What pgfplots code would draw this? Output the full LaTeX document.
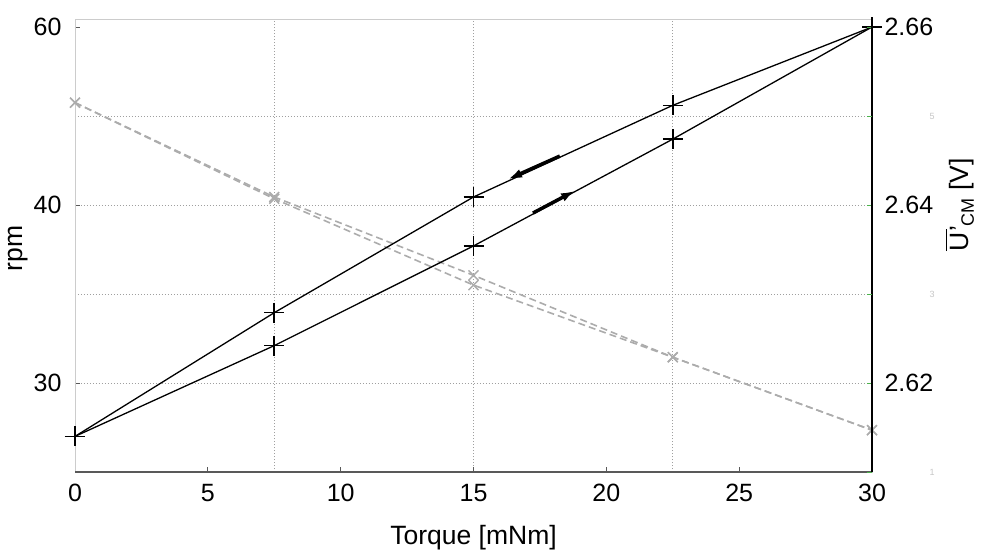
\documentclass[border=0pt]{standalone}
\usepackage{fontspec}
\setmainfont{Liberation Sans}
\usepackage{pgfplots}
\pgfplotsset{compat=1.18}
\usetikzlibrary{arrows.meta}
\begin{document}
\fontsize{25bp}{30bp}\selectfont
\begin{tikzpicture}
\pgfplotsset{
  base/.style={
    scale only axis, width=797bp, height=453bp,
    xmin=0, xmax=30, ymin=2.61, ymax=2.6609,
    /pgf/number format/assume math mode=true,
    tick label style={font=\fontsize{25bp}{30bp}\selectfont},
    label style={font=\fontsize{26.5bp}{30bp}\selectfont},
    tick align=inside, major tick length=5bp,
  }
}
\begin{axis}[base,
  axis line style={gray!40},
  xtick={0,5,...,30}, xticklabels={0,5,10,15,20,25,30},
  minor xtick={7.5,15,22.5}, xminorgrids, minor tick length=0pt,
  ytick={2.62,2.64,2.66}, yticklabels={30,40,60},
  minor ytick={2.62,2.63,2.64,2.65}, yminorgrids,
  xtick pos=bottom, ytick pos=left,
  tick style={gray!70!black, line width=0.8bp},
  minor grid style={gray!75, dash pattern=on 1.5bp off 1.5bp, line width=0.8bp},
  xlabel={Torque [mNm]},
  xlabel style={at={(axis description cs:0.5,0)}, anchor=center, yshift=-66bp},
  ylabel={rpm},
  ylabel style={at={(axis description cs:-0.0715,0.494)}, anchor=center},
  yticklabel style={xshift=-5bp},
  xticklabel style={yshift=-4bp},
]
\coordinate (sw) at (rel axis cs:0,0);
\coordinate (ne) at (rel axis cs:1,1);
% gray dashed series
\addplot[gray!65, line width=1.6bp, dash pattern=on 7bp off 4bp, mark=x, mark size=7bp, mark options={solid, line width=1.5bp}]
  coordinates {(0,2.6515) (7.5,2.6409) (15,2.6321) (22.5,2.6229) (30,2.6147)};
\addplot[gray!65, line width=1.6bp, dash pattern=on 7bp off 4bp, mark=x, mark size=7bp, mark options={solid, line width=1.5bp}]
  coordinates {(0,2.6515) (7.5,2.6407) (15,2.6310) (22.5,2.6229) (30,2.6147)};
% black series
\addplot[black, line width=1.3bp, mark=+, mark size=10bp, mark options={line width=1.6bp}]
  coordinates {(0,2.6140) (7.5,2.6279) (15,2.6409) (22.5,2.6512) (30,2.6600)};
\addplot[black, line width=1.3bp, mark=+, mark size=10bp, mark options={line width=1.6bp}]
  coordinates {(0,2.6140) (7.5,2.6242) (15,2.6354) (22.5,2.6474) (30,2.6600)};
% direction arrows
\addplot[black, line width=3.5bp, -{Latex[length=14bp,width=9bp]}]
  coordinates {(18.25,2.6455) (16.3,2.6429)};
\addplot[black, line width=3.5bp, -{Latex[length=14bp,width=9bp]}]
  coordinates {(17.24,2.6391) (18.82,2.6416)};
\end{axis}
\begin{axis}[base,
  axis y line*=right, axis x line*=bottom,
  x axis line style={gray!70!black, line width=1.2bp},
  y axis line style={black, line width=1.5bp},
  xtick=\empty,
  ytick={2.62,2.64,2.66}, yticklabels={2.62,2.64,2.66},
  tick style={green!40!gray, line width=0.8bp},
  yticklabel style={xshift=4bp},
  extra y ticks={2.61,2.63,2.65}, extra y tick labels={1,3,5},
  extra y tick style={tick label style={font=\fontsize{9bp}{10bp}\selectfont, text=gray!45, xshift=45bp}},
  ylabel={\makebox[0pt][l]{\rule[21.5bp]{22bp}{1.6bp}}U'\raisebox{-5bp}{\fontsize{18bp}{19bp}\selectfont CM} [V]},
  ylabel style={at={(axis description cs:1.1104,0.59)}, anchor=center},
]
\end{axis}
\pgfresetboundingbox
\path[use as bounding box] ([shift={(-75bp,-83bp)}]sw) rectangle ([shift={(110bp,19bp)}]ne);
\end{tikzpicture}
\end{document}
